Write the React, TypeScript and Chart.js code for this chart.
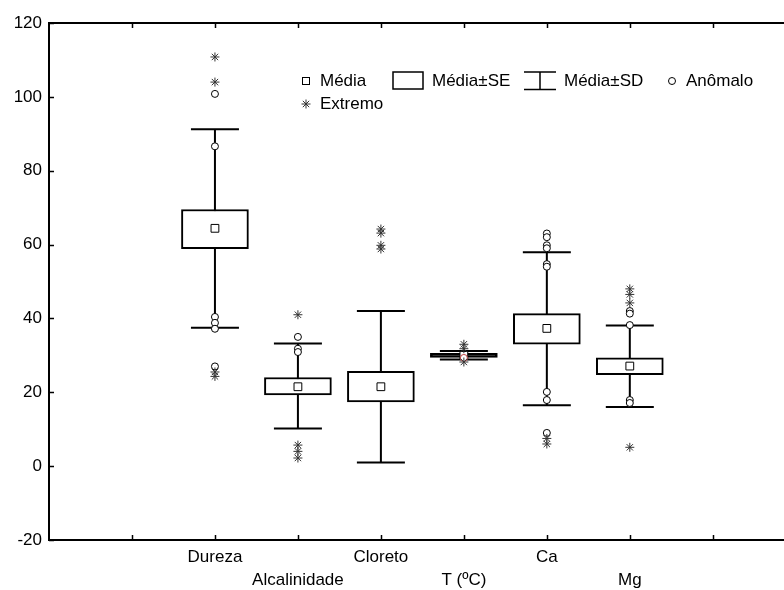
import React, { useEffect, useRef } from 'react';
import { Chart, registerables } from 'chart.js';

Chart.register(...registerables);

// ---- data ----
const categories = ['Dureza', 'Alcalinidade', 'Cloreto', 'T (ºC)', 'Ca', 'Mg'];
const means = [64.4, 21.5, 21.5, 30.0, 37.3, 27.1];
const seLow = [58.9, 19.3, 17.4, 29.45, 33.0, 24.8];
const seHigh = [69.5, 24.0, 25.7, 30.55, 41.3, 29.3];
const sdLow = [37.5, 10.2, 1.0, 28.9, 16.5, 16.0];
const sdHigh = [91.2, 33.2, 42.0, 31.2, 57.9, 38.1];
const anomalous = [
  [100.8, 86.6, 40.4, 38.8, 37.2, 27.0],
  [35.0, 31.8, 30.9],
  [],
  [29.3],
  [63.0, 62.0, 59.8, 59.0, 54.7, 54.0, 20.1, 17.9, 9.0],
  [42.0, 41.3, 38.2, 17.9, 17.1],
];
const extremes = [
  [110.8, 104.0, 25.5, 24.3],
  [41.0, 5.7, 4.0, 2.2],
  [64.2, 63.1, 59.8, 58.8],
  [33.0, 31.8, 28.2],
  [7.5, 6.0],
  [48.0, 46.5, 44.2, 5.1],
];
const yTicks = [-20, 0, 20, 40, 60, 80, 100, 120];
const xTicks = [-2, -1, 0, 1, 2, 3, 4, 5, 6];
const legendItems = ['Média', 'Média±SE', 'Média±SD', 'Anômalo', 'Extremo'];

const FONT = '"Liberation Sans", Arial, sans-serif';
const FS = 17;

const whiskerPlugin = {
  id: 'whiskers',
  beforeDatasetsDraw(chart: any) {
    const { ctx, scales } = chart;
    const x = scales.x, y = scales.y;
    ctx.save();
    ctx.strokeStyle = '#000';
    ctx.lineWidth = 2;
    categories.forEach((_, i) => {
      const px = x.getPixelForValue(i);
      const cap = 24;
      const t = y.getPixelForValue(sdHigh[i]);
      const b = y.getPixelForValue(sdLow[i]);
      ctx.beginPath();
      ctx.moveTo(px, t); ctx.lineTo(px, b);
      ctx.moveTo(px - cap, t); ctx.lineTo(px + cap, t);
      ctx.moveTo(px - cap, b); ctx.lineTo(px + cap, b);
      ctx.stroke();
    });
    ctx.restore();
  },
};

const framePlugin = {
  id: 'frame',
  afterDraw(chart: any) {
    const { ctx, chartArea, scales } = chart;
    const x = scales.x, y = scales.y;
    ctx.save();
    ctx.strokeStyle = '#000';
    ctx.lineWidth = 2;
    ctx.beginPath();
    ctx.moveTo(chartArea.left - 1, chartArea.top);
    ctx.lineTo(chart.width, chartArea.top);
    ctx.moveTo(chartArea.left - 1, chartArea.bottom);
    ctx.lineTo(chart.width, chartArea.bottom);
    ctx.stroke();
    ctx.lineWidth = 1.5;
    ctx.beginPath();
    xTicks.forEach((v) => {
      if (v <= -2) return;
      const px = Math.round(x.getPixelForValue(v)) + 0.5;
      ctx.moveTo(px, chartArea.bottom);
      ctx.lineTo(px, chartArea.bottom - 5);
      ctx.moveTo(px, chartArea.top);
      ctx.lineTo(px, chartArea.top + 5);
    });
    yTicks.forEach((v) => {
      const py = Math.round(y.getPixelForValue(v)) + 0.5;
      ctx.moveTo(chartArea.left, py);
      ctx.lineTo(chartArea.left + 5, py);
    });
    ctx.stroke();
    ctx.restore();
  },
};

function drawStar(ctx: CanvasRenderingContext2D, cx: number, cy: number, r: number) {
  ctx.beginPath();
  ctx.moveTo(cx, cy - r); ctx.lineTo(cx, cy + r);
  ctx.moveTo(cx - r, cy); ctx.lineTo(cx + r, cy);
  const d = r * Math.SQRT1_2;
  ctx.moveTo(cx - d, cy - d); ctx.lineTo(cx + d, cy + d);
  ctx.moveTo(cx - d, cy + d); ctx.lineTo(cx + d, cy - d);
  ctx.stroke();
}

const legendPlugin = {
  id: 'customLegend',
  afterDraw(chart: any) {
    const { ctx } = chart;
    ctx.save();
    ctx.font = `${FS}px ${FONT}`;
    ctx.fillStyle = '#000';
    ctx.textBaseline = 'middle';
    ctx.textAlign = 'left';
    const r1 = 81, r2 = 104;
    ctx.strokeStyle = '#000';
    ctx.lineWidth = 1;
    ctx.strokeRect(302.5, 77.5, 7, 7);
    ctx.fillText(legendItems[0], 320, r1);
    ctx.lineWidth = 1.5;
    ctx.strokeRect(393, 72, 30, 17);
    ctx.fillText(legendItems[1], 432, r1);
    ctx.beginPath();
    ctx.moveTo(524, 72); ctx.lineTo(556, 72);
    ctx.moveTo(540, 72); ctx.lineTo(540, 89.5);
    ctx.moveTo(524, 89.5); ctx.lineTo(556, 89.5);
    ctx.stroke();
    ctx.fillText(legendItems[2], 564, r1);
    ctx.lineWidth = 1;
    ctx.beginPath();
    ctx.arc(672, r1, 3.5, 0, Math.PI * 2);
    ctx.stroke();
    ctx.fillText(legendItems[3], 686, r1);
    ctx.strokeStyle = '#333';
    drawStar(ctx, 306, r2, 4.5);
    ctx.fillText(legendItems[4], 320, r2);
    ctx.restore();
  },
};

export default function App() {
  const ref = useRef<HTMLCanvasElement | null>(null);
  useEffect(() => {
    if (!ref.current) return;
    const meanData = means.map((v, i) => ({ x: i, y: v }));
    const anomData: { x: number; y: number }[] = [];
    const anomColors: string[] = [];
    anomalous.forEach((arr, i) => arr.forEach((v) => {
      anomData.push({ x: i, y: v });
      anomColors.push(i === 3 ? '#c04040' : '#000');
    }));
    const extData: { x: number; y: number }[] = [];
    extremes.forEach((arr, i) => arr.forEach((v) => extData.push({ x: i, y: v })));
    const boxData = categories.map((_, i) => ({ x: i, y: [seLow[i], seHigh[i]] }));
    // very narrow SE box (T) renders as a solid bar
    const boxFill = categories.map((_, i) => (seHigh[i] - seLow[i] < 2 ? '#000' : '#fff'));

    const chart = new Chart(ref.current, {
      type: 'scatter',
      data: {
        datasets: [
          {
            type: 'bar',
            label: 'SE',
            data: boxData as any,
            backgroundColor: boxFill,
            borderColor: '#000',
            borderWidth: 2,
            borderSkipped: false,
            barThickness: 67,
            grouped: false,
            order: 4,
          } as any,
          {
            label: 'Extremo',
            data: extData,
            pointStyle: 'star',
            radius: 4.5,
            borderColor: '#333',
            borderWidth: 1,
            backgroundColor: 'transparent',
            order: 1,
          },
          {
            label: 'Anômalo',
            data: anomData,
            pointStyle: 'circle',
            radius: 3.5,
            borderColor: anomColors,
            borderWidth: 1,
            backgroundColor: '#fff',
            order: 2,
          },
          {
            label: 'Média',
            data: meanData,
            pointStyle: 'rect',
            radius: 5.5,
            borderColor: '#000',
            borderWidth: 1,
            backgroundColor: '#fff',
            order: 3,
          },
        ],
      },
      options: {
        animation: false,
        responsive: false,
        layout: { padding: { top: 23, right: 0, left: 0, bottom: 0 } },
        plugins: { legend: { display: false }, tooltip: { enabled: false } },
        scales: {
          x: {
            type: 'linear',
            min: -2,
            max: 6.78,
            offset: false,
            afterBuildTicks: (s: any) => { s.ticks = xTicks.map((v) => ({ value: v })); },
            afterFit: (s: any) => { s.height = 50; },
            grid: { display: false, drawTicks: false },
            border: { display: true, color: '#000', width: 2 },
            ticks: {
              autoSkip: false,
              maxRotation: 0,
              padding: 5,
              color: '#000',
              font: { family: FONT, size: FS, lineHeight: 1.4 },
              callback: (v: any) => {
                const i = Number(v);
                if (!Number.isInteger(i) || i < 0 || i >= categories.length) return '';
                return i % 2 === 0 ? categories[i] : ['', categories[i]];
              },
            },
          },
          y: {
            type: 'linear',
            min: -20,
            max: 120,
            afterBuildTicks: (s: any) => { s.ticks = yTicks.map((v) => ({ value: v })); },
            afterFit: (s: any) => { s.width = 49; },
            grid: { display: false, drawTicks: false },
            border: { display: true, color: '#000', width: 2 },
            ticks: {
              padding: 7,
              color: '#000',
              font: { family: FONT, size: FS },
            },
          },
        },
      },
      plugins: [whiskerPlugin, framePlugin, legendPlugin],
    });
    return () => chart.destroy();
  }, []);
  return (
    <div style={{ position: 'fixed', left: 0, top: 0, width: 784, height: 590, background: '#fff' }}>
      <canvas ref={ref} width={784} height={590} style={{ width: 784, height: 590, display: 'block' }} />
    </div>
  );
}
